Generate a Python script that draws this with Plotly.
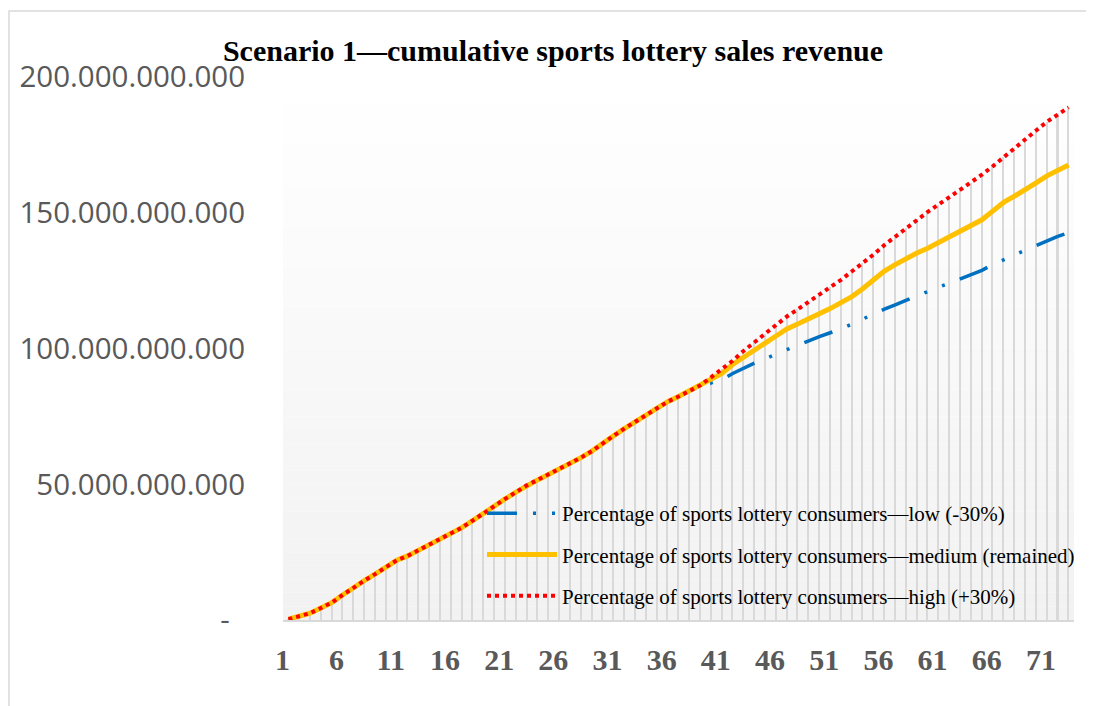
import plotly.graph_objects as go

# cumulative sales revenue, in billions
periods = list(range(1, 74))

common_part = [0.3, 1.4, 2.5, 4.4, 6.4, 9.2, 12.0, 14.5, 16.9, 19.6,
               22.0, 23.6, 25.7, 27.7, 29.8, 31.7, 34.0, 36.6, 39.4, 42.1,
               44.6, 47.1, 49.6, 51.6, 53.6, 55.6, 57.7, 59.8, 62.2, 65.2,
               67.8, 70.5, 73.0, 75.6, 78.2, 80.4, 82.3, 84.4, 86.4]
low_tail = [87.3, 88.5, 90.8, 92.8, 94.6, 96.2, 98.0, 99.6, 101.1, 102.8,
            104.4, 105.8, 107.2, 109.0, 110.9, 112.8, 114.5, 116.1, 117.8, 119.4,
            121.0, 122.6, 124.1, 125.6, 127.1, 128.8, 130.9, 132.8, 134.4, 136.2,
            138.0, 139.8, 141.3, 142.7]
medium_tail = [88.5, 90.8, 94.1, 96.9, 99.5, 102.0, 104.6, 107.2, 109.0, 110.8,
               112.6, 114.7, 116.9, 119.1, 122.0, 125.0, 128.5, 130.9, 133.1, 135.2,
               136.9, 139.0, 141.2, 143.4, 145.3, 147.4, 150.6, 153.8, 156.1, 158.4,
               161.0, 163.6, 165.6, 167.6]
high_tail = [89.4, 92.4, 95.5, 99.1, 102.3, 105.4, 108.7, 111.8, 114.4, 117.0,
             120.0, 122.6, 125.3, 128.3, 131.4, 134.6, 138.1, 141.2, 144.3, 147.6,
             150.3, 153.0, 155.7, 158.2, 161.0, 164.0, 167.1, 170.5, 173.9, 177.1,
             180.3, 183.5, 186.2, 188.8]

low = [v * 1e9 for v in common_part + low_tail]
medium = [v * 1e9 for v in common_part + medium_tail]
high = [v * 1e9 for v in common_part + high_tail]

series_names = [
    "Percentage of sports lottery consumers\u2014low (-30%)",
    "Percentage of sports lottery consumers\u2014medium (remained)",
    "Percentage of sports lottery consumers\u2014high (+30%)",
]
x_ticks = [1, 6, 11, 16, 21, 26, 31, 36, 41, 46, 51, 56, 61, 66, 71]
y_ticks = [0, 50e9, 100e9, 150e9, 200e9]
y_tick_text = ["-\u00a0\u00a0", "50.000.000.000", "100.000.000.000",
               "150.000.000.000", "200.000.000.000"]

# the page body adds 8px around the figure, so work 8px up/left
OFF = 8
W, H = 1094 - OFF, 706 - OFF
ML, MR, MT, MB = 283 - OFF, 20, 77 - OFF, 86
pw, ph = W - ML - MR, H - MT - MB
bottom = H - MB

fig = go.Figure()

# drop lines from the top series down to the axis
drop_top = [max(a, b, c) for a, b, c in zip(low, medium, high)]
fig.add_trace(go.Bar(x=periods, y=drop_top, width=0.14,
                     marker=dict(color="#d9d9d9", line=dict(width=0)),
                     showlegend=False, hoverinfo="skip"))

fig.add_trace(go.Scatter(x=periods, y=low, mode="lines", name=series_names[0],
                         legendgroup="a",
                         line=dict(color="#0070C0", width=3.5,
                                   dash="30px,16px,3px,16px,3px,16px")))
fig.add_trace(go.Scatter(x=periods, y=medium, mode="lines", name=series_names[1],
                         legendgroup="b",
                         line=dict(color="#FFC000", width=5)))
fig.add_trace(go.Scatter(x=periods, y=high, mode="lines", name=series_names[2],
                         legendgroup="c",
                         line=dict(color="#FF0000", width=4, dash="dot")))

# gradient plot background
shapes = []
n = 40
for k in range(n):
    t = k / (n - 1)
    c = round(255 - 13 * t)
    shapes.append(dict(type="rect", xref="x domain", yref="y domain",
                       x0=0, x1=1, y0=1 - (k + 1) / n, y1=1 - k / n,
                       fillcolor=f"rgb({c},{c},{c})", line=dict(width=0),
                       layer="below"))
# outer chart border
shapes.append(dict(type="rect", xref="paper", yref="paper",
                   x0=(1 - ML) / pw, x1=(W + 5 - ML) / pw,
                   y0=(bottom - (H + 5)) / ph, y1=(bottom - (11 - OFF)) / ph,
                   line=dict(color="#d9d9d9", width=1.5), layer="below"))

fig.update_layout(
    width=W, height=H,
    margin=dict(l=ML, r=MR, t=MT, b=MB),
    paper_bgcolor="white",
    plot_bgcolor="rgba(0,0,0,0)",
    shapes=shapes,
    title=dict(text="Scenario 1\u2014cumulative sports lottery sales revenue",
               x=(553 - OFF) / W, xanchor="center",
               y=1 - (50 - OFF) / H, yanchor="middle",
               font=dict(family="Liberation Serif", size=30, color="black",
                         weight="bold")),
    legend=dict(x=(482 - OFF - ML) / pw, y=(bottom - (493 - OFF)) / ph,
                xanchor="left", yanchor="top",
                bgcolor="rgba(0,0,0,0)", itemwidth=70, tracegroupgap=11,
                font=dict(family="Liberation Serif", size=21, color="black")),
    bargap=0,
)

fig.update_xaxes(range=[0.5, 73.5], tickvals=x_ticks, showgrid=False,
                 zeroline=False, showline=True, linecolor="#d9d9d9",
                 linewidth=1.5, ticks="outside", ticklen=12,
                 tickcolor="rgba(0,0,0,0)", ticklabelshift=-6,
                 tickfont=dict(family="Liberation Serif", size=30,
                               color="#595959", weight="bold"))
fig.update_yaxes(range=[0, 200e9], tickvals=y_ticks, ticktext=y_tick_text,
                 showgrid=False, zeroline=False, showline=False,
                 ticks="outside", ticklen=31, tickcolor="rgba(0,0,0,0)",
                 tickfont=dict(family="Open Sans", size=29.5, color="#595959"))

fig.write_html("out.html")
